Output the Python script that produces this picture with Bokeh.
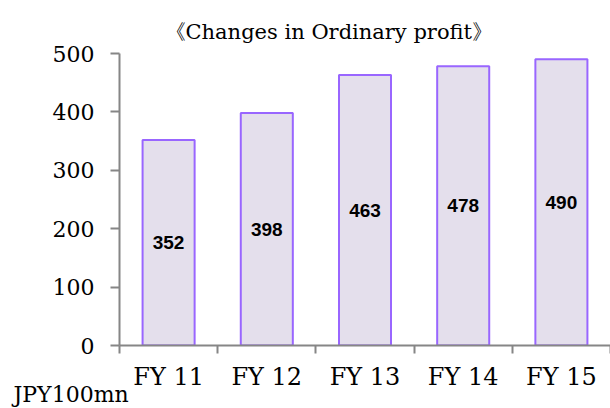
from bokeh.plotting import figure
from bokeh.models import ColumnDataSource, FixedTicker, Range1d, LabelSet, Title
from bokeh.core.properties import value
from bokeh.embed import file_html
from bokeh.resources import INLINE

categories = ["FY 11", "FY 12", "FY 13", "FY 14", "FY 15"]
profit = [352, 398, 463, 478, 490]
y_ticks = [0, 100, 200, 300, 400, 500]
title_text = "《Changes in Ordinary profit》"
unit_text = "JPY100mn"

xs = [i + 0.5 for i in range(len(categories))]
src = ColumnDataSource(dict(
    x=xs, top=profit, mid=[v / 2 for v in profit],
    txt=[str(v) for v in profit], cat=categories))

p = figure(width=610, height=408, output_backend="svg", toolbar_location=None,
           x_range=Range1d(0, len(categories)), y_range=Range1d(0, 500),
           min_border_left=119, min_border_right=0, min_border_top=53,
           min_border_bottom=63)
p.outline_line_color = None
p.grid.visible = False
p.background_fill_color = "white"

p.vbar(x="x", top="top", width=0.53, source=src, fill_color="#E4DFEC",
       line_color="#9966FF", line_width=2)

labels = LabelSet(x="x", y="mid", text="txt", source=src, text_align="center",
                  text_baseline="middle", text_font=value("Liberation Sans"),
                  text_font_style="bold", text_font_size=value("19px"),
                  text_color="black")
p.add_layout(labels)

# y axis
p.yaxis.ticker = FixedTicker(ticks=y_ticks)
p.yaxis.axis_line_color = "#868686"
p.yaxis.axis_line_width = 2
p.yaxis.major_tick_line_color = "#868686"
p.yaxis.major_tick_line_width = 2
p.yaxis.major_tick_out = 9
p.yaxis.major_tick_in = 0
p.yaxis.minor_tick_line_color = None
p.yaxis.major_label_standoff = 16
p.yaxis.major_label_text_font = "DejaVu Serif"
p.yaxis.major_label_text_font_size = "22px"
p.yaxis.major_label_text_color = "black"

# x axis: labels at category centres, ticks at boundaries
p.xaxis.ticker = FixedTicker(ticks=xs, minor_ticks=list(range(len(categories) + 1)))
p.xaxis.major_label_overrides = {x: c for x, c in zip(xs, categories)}
p.xaxis.axis_line_color = "#868686"
p.xaxis.axis_line_width = 2
p.xaxis.major_tick_line_color = None
p.xaxis.minor_tick_line_color = "#868686"
p.xaxis.minor_tick_line_width = 2
p.xaxis.minor_tick_out = 8
p.xaxis.minor_tick_in = 0
p.xaxis.major_tick_out = 8
p.xaxis.major_label_standoff = 9
p.xaxis.major_label_text_font = "DejaVu Serif"
p.xaxis.major_label_text_font_size = "24px"
p.xaxis.major_label_text_color = "black"

p.title.text = title_text
p.title.text_font = "DejaVu Serif"
p.title.text_font_style = "normal"
p.title.text_font_size = "21px"
p.title.align = "left"
p.title.offset = 45
p.title.standoff = 19
p.title.text_color = "black"

unit = Title(text=unit_text, align="left", offset=-106, vertical_align="top",
             standoff=-24, text_font="DejaVu Serif", text_font_size="22px",
             text_font_style="normal", text_color="black")
p.add_layout(unit, "below")

open("out.html", "w").write(file_html(p, INLINE))
